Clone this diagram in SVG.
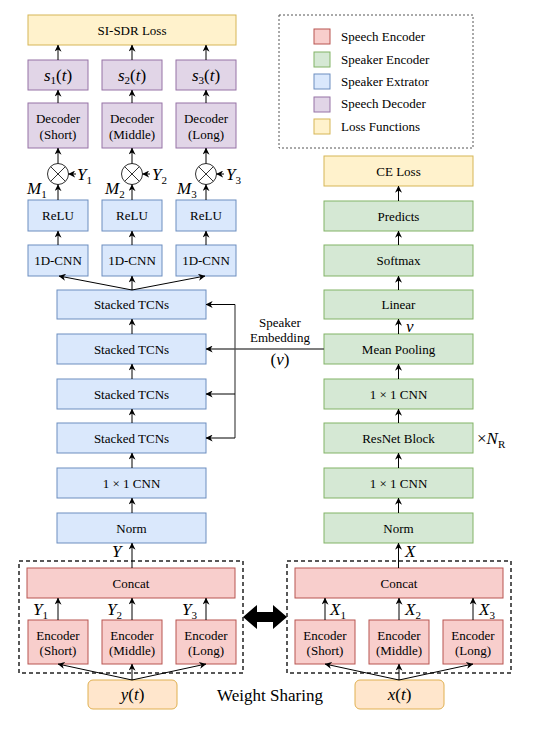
<svg xmlns="http://www.w3.org/2000/svg" width="538" height="734" viewBox="0 0 538 734" font-family="'Liberation Serif', 'DejaVu Serif', serif">
<defs>
<marker id="ah" viewBox="0 0 10 10" refX="9.5" refY="5" markerWidth="7" markerHeight="7" markerUnits="userSpaceOnUse" orient="auto"><path d="M0,0 L10,5 L0,10 L3,5 z" fill="#000"/></marker>
<style>
.red{fill:#f8cecc;stroke:#b85450;stroke-width:1}
.grn{fill:#d5e8d4;stroke:#82b366;stroke-width:1}
.blu{fill:#dae8fc;stroke:#6c8ebf;stroke-width:1}
.pur{fill:#e1d5e7;stroke:#9673a6;stroke-width:1}
.yel{fill:#fff2cc;stroke:#d6b656;stroke-width:1}
.org{fill:#ffe6cc;stroke:#e0b050;stroke-width:1}
text{font-family:'Liberation Serif','DejaVu Serif',serif;fill:#000}
.t{font-size:13px;text-anchor:middle}
.lg{font-size:13px}
.m{font-size:17px;font-style:italic}
.mc{font-size:17px;font-style:italic;text-anchor:middle}
.sub{font-size:11px;font-style:normal}
.c line{stroke:#000;stroke-width:1;fill:none}
.c .a{marker-end:url(#ah)}
.c .emb{stroke:#555;stroke-width:1.3}
</style>
</defs>
<rect width="538" height="734" fill="#fff"/>

<g id="legend">
<rect x="279" y="15" width="194" height="133" fill="none" stroke="#555" stroke-width="1" stroke-dasharray="2,2"/>
<rect x="314" y="29" width="16" height="15" class="red"/>
<rect x="314" y="52" width="16" height="15" class="grn"/>
<rect x="314" y="74" width="16" height="15" class="blu"/>
<rect x="314" y="97" width="16" height="15" class="pur"/>
<rect x="314" y="119" width="16" height="15" class="yel"/>
<text class="lg" x="341" y="41">Speech Encoder</text>
<text class="lg" x="341" y="64">Speaker Encoder</text>
<text class="lg" x="341" y="86">Speaker Extrator</text>
<text class="lg" x="341" y="108">Speech Decoder</text>
<text class="lg" x="341" y="131">Loss Functions</text>
</g>

<g id="si-sdr-loss"><rect x="28" y="15" width="208" height="30" class="yel"/><text class="t" x="132" y="34.5">SI-SDR Loss</text></g>

<g id="s1"><rect x="28" y="60" width="60" height="30" class="pur"/><text class="mc" x="58" y="81">s<tspan class="sub" dy="3">1</tspan><tspan dy="-3" font-style="normal">(</tspan>t<tspan font-style="normal">)</tspan></text></g>
<g id="s2"><rect x="102" y="60" width="60" height="30" class="pur"/><text class="mc" x="132" y="81">s<tspan class="sub" dy="3">2</tspan><tspan dy="-3" font-style="normal">(</tspan>t<tspan font-style="normal">)</tspan></text></g>
<g id="s3"><rect x="176" y="60" width="60" height="30" class="pur"/><text class="mc" x="206" y="81">s<tspan class="sub" dy="3">3</tspan><tspan dy="-3" font-style="normal">(</tspan>t<tspan font-style="normal">)</tspan></text></g>

<g id="dec1"><rect x="28" y="103" width="60" height="45" class="pur"/><text class="t" x="58" y="122.5">Decoder</text><text class="t" x="58" y="138.5">(Short)</text></g>
<g id="dec2"><rect x="102" y="103" width="60" height="45" class="pur"/><text class="t" x="132" y="122.5">Decoder</text><text class="t" x="132" y="138.5">(Middle)</text></g>
<g id="dec3"><rect x="176" y="103" width="60" height="45" class="pur"/><text class="t" x="206" y="122.5">Decoder</text><text class="t" x="206" y="138.5">(Long)</text></g>

<g id="mul1"><circle cx="58" cy="174" r="10.5" fill="#fff" stroke="#333"/><path d="M50.6,166.6 L65.4,181.4 M65.4,166.6 L50.6,181.4" stroke="#333"/></g>
<g id="mul2"><circle cx="132" cy="174" r="10.5" fill="#fff" stroke="#333"/><path d="M124.6,166.6 L139.4,181.4 M139.4,166.6 L124.6,181.4" stroke="#333"/></g>
<g id="mul3"><circle cx="206" cy="174" r="10.5" fill="#fff" stroke="#333"/><path d="M198.6,166.6 L213.4,181.4 M213.4,166.6 L198.6,181.4" stroke="#333"/></g>

<g id="relu1"><rect x="28" y="200" width="60" height="31" class="blu"/><text class="t" x="58" y="220">ReLU</text></g>
<g id="relu2"><rect x="102" y="200" width="60" height="31" class="blu"/><text class="t" x="132" y="220">ReLU</text></g>
<g id="relu3"><rect x="176" y="200" width="60" height="31" class="blu"/><text class="t" x="206" y="220">ReLU</text></g>

<g id="cnn1"><rect x="28" y="245" width="60" height="31" class="blu"/><text class="t" x="58" y="265">1D-CNN</text></g>
<g id="cnn2"><rect x="102" y="245" width="60" height="31" class="blu"/><text class="t" x="132" y="265">1D-CNN</text></g>
<g id="cnn3"><rect x="176" y="245" width="60" height="31" class="blu"/><text class="t" x="206" y="265">1D-CNN</text></g>

<g id="tcn1"><rect x="57" y="290" width="149" height="29" class="blu"/><text class="t" x="131.5" y="309">Stacked TCNs</text></g>
<g id="tcn2"><rect x="57" y="334" width="149" height="30" class="blu"/><text class="t" x="131.5" y="353.5">Stacked TCNs</text></g>
<g id="tcn3"><rect x="57" y="379" width="149" height="30" class="blu"/><text class="t" x="131.5" y="398.5">Stacked TCNs</text></g>
<g id="tcn4"><rect x="57" y="423" width="149" height="30" class="blu"/><text class="t" x="131.5" y="442.5">Stacked TCNs</text></g>
<g id="cnn1x1-l"><rect x="57" y="468" width="149" height="30" class="blu"/><text class="t" x="131.5" y="487.5">1 × 1 CNN</text></g>
<g id="norm-l"><rect x="57" y="513" width="149" height="30" class="blu"/><text class="t" x="131.5" y="532.5">Norm</text></g>

<g id="ce-loss"><rect x="324" y="156" width="149" height="30" class="yel"/><text class="t" x="398.5" y="175.5">CE Loss</text></g>
<g id="predicts"><rect x="324" y="201" width="149" height="30" class="grn"/><text class="t" x="398.5" y="220.5">Predicts</text></g>
<g id="softmax"><rect x="324" y="245" width="149" height="31" class="grn"/><text class="t" x="398.5" y="265">Softmax</text></g>
<g id="linear"><rect x="324" y="290" width="149" height="29" class="grn"/><text class="t" x="398.5" y="309">Linear</text></g>
<g id="meanpool"><rect x="324" y="334" width="149" height="30" class="grn"/><text class="t" x="398.5" y="353.5">Mean Pooling</text></g>
<g id="cnn1x1-r2"><rect x="324" y="379" width="149" height="30" class="grn"/><text class="t" x="398.5" y="398.5">1 × 1 CNN</text></g>
<g id="resnet"><rect x="324" y="423" width="149" height="30" class="grn"/><text class="t" x="398.5" y="442.5">ResNet Block</text></g>
<g id="cnn1x1-r1"><rect x="324" y="468" width="149" height="30" class="grn"/><text class="t" x="398.5" y="487.5">1 × 1 CNN</text></g>
<g id="norm-r"><rect x="324" y="513" width="149" height="30" class="grn"/><text class="t" x="398.5" y="532.5">Norm</text></g>

<g id="speech-enc-left">
<rect x="19" y="561" width="224" height="112" fill="none" stroke="#222" stroke-width="1.5" stroke-dasharray="4,3"/>
</g>
<g id="concat-l"><rect x="27" y="568" width="208" height="30" class="red"/><text class="t" x="131" y="587.5">Concat</text></g>
<g id="enc-l1"><rect x="28" y="620" width="60" height="44" class="red"/><text class="t" x="58" y="639.5">Encoder</text><text class="t" x="58" y="655">(Short)</text></g>
<g id="enc-l2"><rect x="102" y="620" width="60" height="44" class="red"/><text class="t" x="132" y="639.5">Encoder</text><text class="t" x="132" y="655">(Middle)</text></g>
<g id="enc-l3"><rect x="176" y="620" width="60" height="44" class="red"/><text class="t" x="206" y="639.5">Encoder</text><text class="t" x="206" y="655">(Long)</text></g>

<g id="speech-enc-right">
<rect x="287" y="561" width="224" height="112" fill="none" stroke="#222" stroke-width="1.5" stroke-dasharray="4,3"/>
</g>
<g id="concat-r"><rect x="295" y="568" width="208" height="30" class="red"/><text class="t" x="399" y="587.5">Concat</text></g>
<g id="enc-r1"><rect x="295" y="620" width="60" height="44" class="red"/><text class="t" x="325" y="639.5">Encoder</text><text class="t" x="325" y="655">(Short)</text></g>
<g id="enc-r2"><rect x="369" y="620" width="60" height="44" class="red"/><text class="t" x="399" y="639.5">Encoder</text><text class="t" x="399" y="655">(Middle)</text></g>
<g id="enc-r3"><rect x="443" y="620" width="60" height="44" class="red"/><text class="t" x="473" y="639.5">Encoder</text><text class="t" x="473" y="655">(Long)</text></g>

<g id="yt"><rect x="88" y="680" width="89" height="29" rx="5" class="org"/><text class="mc" x="132.5" y="700">y<tspan font-style="normal">(</tspan>t<tspan font-style="normal">)</tspan></text></g>
<g id="xt"><rect x="355" y="680" width="89" height="29" rx="5" class="org"/><text class="mc" x="399.5" y="700">x<tspan font-style="normal">(</tspan>t<tspan font-style="normal">)</tspan></text></g>

<g id="weight-sharing">
<path d="M243,617 L257,605 L257,612 L273,612 L273,605 L287,617 L273,629 L273,622 L257,622 L257,629 Z" fill="#000"/>
<text x="270" y="701" font-size="17" text-anchor="middle">Weight Sharing</text>
</g>

<g id="connectors" class="c">
<line class="a" x1="132" y1="680" x2="58" y2="664"/>
<line class="a" x1="132" y1="680" x2="132" y2="664"/>
<line class="a" x1="132" y1="680" x2="206" y2="664"/>
<line class="a" x1="58" y1="620" x2="58" y2="598"/>
<line class="a" x1="132" y1="620" x2="132" y2="598"/>
<line class="a" x1="206" y1="620" x2="206" y2="598"/>
<line class="a" x1="132" y1="568" x2="132" y2="543"/>
<line class="a" x1="132" y1="513" x2="132" y2="498"/>
<line class="a" x1="132" y1="468" x2="132" y2="453"/>
<line class="a" x1="132" y1="423" x2="132" y2="409"/>
<line class="a" x1="132" y1="379" x2="132" y2="364"/>
<line class="a" x1="132" y1="334" x2="132" y2="319"/>
<line class="a" x1="132" y1="290" x2="59" y2="276"/>
<line class="a" x1="132" y1="290" x2="132" y2="276"/>
<line class="a" x1="132" y1="290" x2="205" y2="276"/>
<line class="a" x1="58" y1="245" x2="58" y2="231"/>
<line class="a" x1="132" y1="245" x2="132" y2="231"/>
<line class="a" x1="206" y1="245" x2="206" y2="231"/>
<line class="a" x1="58" y1="200" x2="58" y2="184.5"/>
<line class="a" x1="132" y1="200" x2="132" y2="184.5"/>
<line class="a" x1="206" y1="200" x2="206" y2="184.5"/>
<line class="a" x1="58" y1="163.5" x2="58" y2="148"/>
<line class="a" x1="132" y1="163.5" x2="132" y2="148"/>
<line class="a" x1="206" y1="163.5" x2="206" y2="148"/>
<line class="a" x1="58" y1="103" x2="58" y2="90"/>
<line class="a" x1="132" y1="103" x2="132" y2="90"/>
<line class="a" x1="206" y1="103" x2="206" y2="90"/>
<line class="a" x1="58" y1="60" x2="58" y2="45"/>
<line class="a" x1="132" y1="60" x2="132" y2="45"/>
<line class="a" x1="206" y1="60" x2="206" y2="45"/>
<line class="a" x1="76" y1="174" x2="68.5" y2="174"/>
<line class="a" x1="150" y1="174" x2="142.5" y2="174"/>
<line class="a" x1="224" y1="174" x2="216.5" y2="174"/>

<line class="a" x1="399" y1="680" x2="325" y2="664"/>
<line class="a" x1="399" y1="680" x2="399" y2="664"/>
<line class="a" x1="399" y1="680" x2="473" y2="664"/>
<line class="a" x1="325" y1="620" x2="325" y2="598"/>
<line class="a" x1="399" y1="620" x2="399" y2="598"/>
<line class="a" x1="473" y1="620" x2="473" y2="598"/>
<line class="a" x1="398.5" y1="568" x2="398.5" y2="543"/>
<line class="a" x1="398.5" y1="513" x2="398.5" y2="498"/>
<line class="a" x1="398.5" y1="468" x2="398.5" y2="453"/>
<line class="a" x1="398.5" y1="423" x2="398.5" y2="409"/>
<line class="a" x1="398.5" y1="379" x2="398.5" y2="364"/>
<line class="a" x1="398.5" y1="334" x2="398.5" y2="319"/>
<line class="a" x1="398.5" y1="290" x2="398.5" y2="276"/>
<line class="a" x1="398.5" y1="245" x2="398.5" y2="231"/>
<line class="a" x1="398.5" y1="201" x2="398.5" y2="186"/>

<line class="a emb" x1="324" y1="349" x2="206" y2="349"/>
<line class="emb" x1="235" y1="304.5" x2="235" y2="438"/>
<line class="a" x1="235" y1="304.5" x2="206" y2="304.5"/>
<line class="a" x1="235" y1="394" x2="206" y2="394"/>
<line class="a" x1="235" y1="438" x2="206" y2="438"/>
</g>

<g id="labels">
<text class="m" x="77" y="180">Y<tspan class="sub" dy="4">1</tspan></text>
<text class="m" x="152" y="180">Y<tspan class="sub" dy="4">2</tspan></text>
<text class="m" x="226" y="180">Y<tspan class="sub" dy="4">3</tspan></text>
<text class="m" x="27" y="194">M<tspan class="sub" dy="4">1</tspan></text>
<text class="m" x="105" y="194">M<tspan class="sub" dy="4">2</tspan></text>
<text class="m" x="177" y="194">M<tspan class="sub" dy="4">3</tspan></text>
<text class="m" x="33" y="615">Y<tspan class="sub" dy="4">1</tspan></text>
<text class="m" x="107" y="615">Y<tspan class="sub" dy="4">2</tspan></text>
<text class="m" x="182" y="615">Y<tspan class="sub" dy="4">3</tspan></text>
<text class="m" x="112" y="557">Y</text>
<text class="m" x="330" y="615">X<tspan class="sub" dy="4">1</tspan></text>
<text class="m" x="405" y="615">X<tspan class="sub" dy="4">2</tspan></text>
<text class="m" x="479" y="615">X<tspan class="sub" dy="4">3</tspan></text>
<text class="m" x="405" y="557">X</text>
<text class="m" x="406" y="332">v</text>
<text class="t" x="280" y="327">Speaker</text>
<text class="t" x="280" y="342">Embedding</text>
<text class="mc" x="280" y="365"><tspan font-style="normal">(</tspan>v<tspan font-style="normal">)</tspan></text>
<text class="m" x="477" y="444"><tspan font-style="normal">×</tspan>N<tspan class="sub" dy="4" font-style="italic">R</tspan></text>
</g>
</svg>
